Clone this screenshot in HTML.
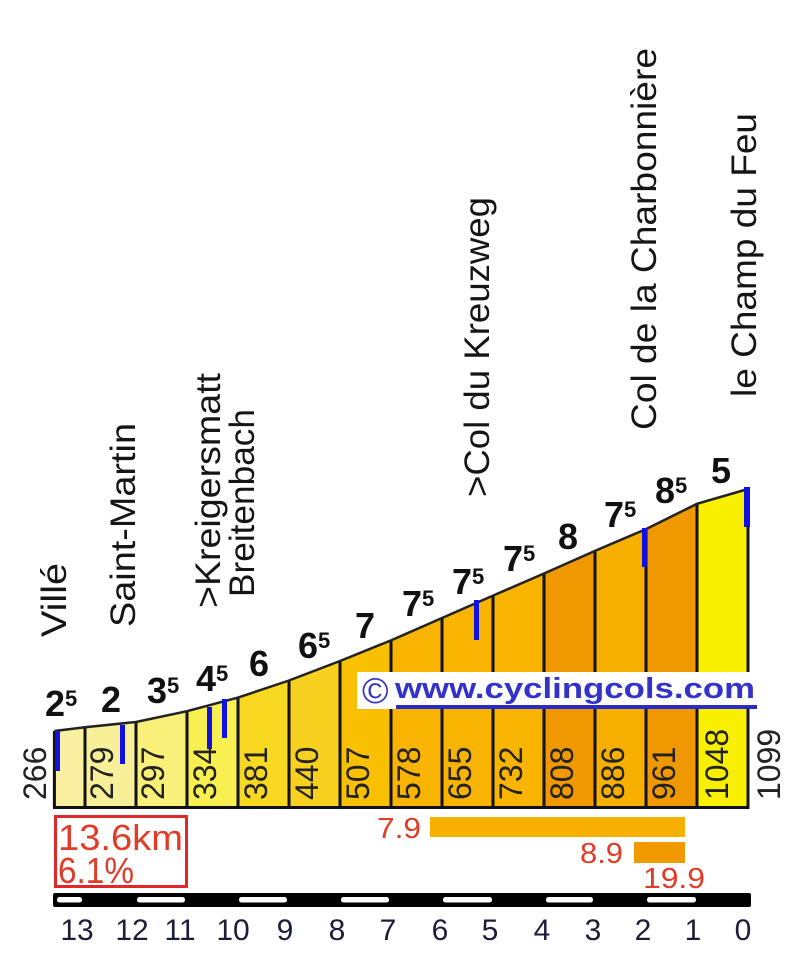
<!DOCTYPE html>
<html><head><meta charset="utf-8"><style>
html,body{margin:0;padding:0;background:#fff;}
svg{display:block;}
text{font-family:"Liberation Sans",sans-serif;}
</style></head><body>
<svg width="800" height="953" viewBox="0 0 800 953" xmlns="http://www.w3.org/2000/svg">
<rect width="800" height="953" fill="#fff"/>

<!-- place names -->
<g font-size="35" fill="#151515">
<text transform="translate(66,637) rotate(-90)" textLength="74" lengthAdjust="spacingAndGlyphs">Villé</text>
<text transform="translate(135,627) rotate(-90)" textLength="204" lengthAdjust="spacingAndGlyphs">Saint-Martin</text>
<text transform="translate(220,608) rotate(-90)" textLength="235" lengthAdjust="spacingAndGlyphs">&gt;Kreigersmatt</text>
<text transform="translate(254,597) rotate(-90)" textLength="188" lengthAdjust="spacingAndGlyphs">Breitenbach</text>
<text transform="translate(489,497) rotate(-90)" textLength="300" lengthAdjust="spacingAndGlyphs">&gt;Col du Kreuzweg</text>
<text transform="translate(656,430) rotate(-90)" textLength="382" lengthAdjust="spacingAndGlyphs">Col de la Charbonnière</text>
<text transform="translate(756,397) rotate(-90)" textLength="284" lengthAdjust="spacingAndGlyphs">le Champ du Feu</text>
</g>

<!-- columns -->
<g stroke="none">
<polygon points="54.4,731 85,727.2 85,808 54.4,808" fill="#f8f0a0"/>
<polygon points="85,727.2 136,722 136,808 85,808" fill="#f8f098"/>
<polygon points="136,722 187,711.2 187,808 136,808" fill="#f8f078"/>
<polygon points="187,711.2 238,697.6 238,808 187,808" fill="#f8f050"/>
<polygon points="238,697.6 289,680.5 289,808 238,808" fill="#f8d820"/>
<polygon points="289,680.5 340,661 340,808 289,808" fill="#f8d020"/>
<polygon points="340,661 391,640.4 391,808 340,808" fill="#f8c000"/>
<polygon points="391,640.4 442,618 442,808 391,808" fill="#f8b400"/>
<polygon points="442,618 493,595.6 493,808 442,808" fill="#f8b400"/>
<polygon points="493,595.6 544,573.5 544,808 493,808" fill="#f8b400"/>
<polygon points="544,573.5 595,550.9 595,808 544,808" fill="#f09800"/>
<polygon points="595,550.9 646,529.1 646,808 595,808" fill="#f8b000"/>
<polygon points="646,529.1 697,503.8 697,808 646,808" fill="#f09800"/>
<polygon points="697,503.8 748,489 748,808 697,808" fill="#f8f000"/>
</g>

<!-- separators -->
<g stroke="#111" stroke-width="3">
<line x1="54.4" y1="731" x2="54.4" y2="808"/>
<line x1="85" y1="727.2" x2="85" y2="808"/>
<line x1="136" y1="722" x2="136" y2="808"/>
<line x1="187" y1="711.2" x2="187" y2="808"/>
<line x1="238" y1="697.6" x2="238" y2="808"/>
<line x1="289" y1="680.5" x2="289" y2="808"/>
<line x1="340" y1="661" x2="340" y2="808"/>
<line x1="391" y1="640.4" x2="391" y2="808"/>
<line x1="442" y1="618" x2="442" y2="808"/>
<line x1="493" y1="595.6" x2="493" y2="808"/>
<line x1="544" y1="573.5" x2="544" y2="808"/>
<line x1="595" y1="550.9" x2="595" y2="808"/>
<line x1="646" y1="529.1" x2="646" y2="808"/>
<line x1="697" y1="503.8" x2="697" y2="808"/>
<line x1="748" y1="489" x2="748" y2="808"/>
<line x1="53" y1="807.5" x2="749.5" y2="807.5"/>
</g>
<polyline points="54.4,731 85,727.2 136,722 187,711.2 238,697.6 289,680.5 340,661 391,640.4 442,618 493,595.6 544,573.5 595,550.9 646,529.1 697,503.8 748,489" fill="none" stroke="#222" stroke-width="2.5"/>

<!-- watermark -->
<rect x="357" y="672" width="400" height="37" fill="#fff"/>
<text x="362" y="703" font-size="36" fill="#3333cc">©</text>
<text x="395" y="698" font-size="29" font-weight="bold" fill="#3333cc" textLength="360" lengthAdjust="spacingAndGlyphs">www.cyclingcols.com</text>
<rect x="396" y="705" width="361" height="4" fill="#2a2ac8"/>

<!-- blue markers -->
<g fill="#1010e0">
<rect x="55" y="731" width="5" height="40"/>
<rect x="120" y="725" width="5" height="39"/>
<rect x="207" y="707" width="5" height="42"/>
<rect x="222" y="699" width="5" height="39"/>
<rect x="474" y="600" width="5" height="40"/>
<rect x="642" y="528" width="5" height="39"/>
<rect x="744" y="487" width="6" height="40"/>
</g>

<!-- elevation labels -->
<g font-size="32" fill="#222">
<text transform="translate(46,800) rotate(-90)">266</text>
<text transform="translate(113,800) rotate(-90)">279</text>
<text transform="translate(164,800) rotate(-90)">297</text>
<text transform="translate(216,800) rotate(-90)">334</text>
<text transform="translate(267,800) rotate(-90)">381</text>
<text transform="translate(318,800) rotate(-90)">440</text>
<text transform="translate(369,800) rotate(-90)">507</text>
<text transform="translate(420,800) rotate(-90)">578</text>
<text transform="translate(471,800) rotate(-90)">655</text>
<text transform="translate(522,800) rotate(-90)">732</text>
<text transform="translate(573,800) rotate(-90)">808</text>
<text transform="translate(624,800) rotate(-90)">886</text>
<text transform="translate(675,800) rotate(-90)">961</text>
<text transform="translate(728,800) rotate(-90)">1048</text>
<text transform="translate(780,800) rotate(-90)">1099</text>
</g>

<!-- gradient labels -->
<g font-size="36" font-weight="bold" fill="#111">
<text x="45" y="716">2<tspan font-size="22" dy="-10">5</tspan></text>
<text x="111" y="712" text-anchor="middle">2</text>
<text x="147" y="703">3<tspan font-size="22" dy="-10">5</tspan></text>
<text x="196" y="691">4<tspan font-size="22" dy="-10">5</tspan></text>
<text x="259" y="676" text-anchor="middle">6</text>
<text x="298" y="658">6<tspan font-size="22" dy="-10">5</tspan></text>
<text x="365" y="638" text-anchor="middle">7</text>
<text x="402" y="616">7<tspan font-size="22" dy="-10">5</tspan></text>
<text x="452" y="594">7<tspan font-size="22" dy="-10">5</tspan></text>
<text x="503" y="571">7<tspan font-size="22" dy="-10">5</tspan></text>
<text x="568" y="549" text-anchor="middle">8</text>
<text x="604" y="527">7<tspan font-size="22" dy="-10">5</tspan></text>
<text x="655" y="503">8<tspan font-size="22" dy="-10">5</tspan></text>
<text x="721" y="483" text-anchor="middle">5</text>
</g>

<!-- summary box -->
<rect x="55.5" y="816.5" width="131" height="70" fill="#fff" stroke="#e02828" stroke-width="3"/>
<text x="58" y="850" font-size="36" fill="#e03c28" textLength="125" lengthAdjust="spacingAndGlyphs">13.6km</text>
<text x="58" y="883" font-size="36" fill="#e03c28" textLength="76" lengthAdjust="spacingAndGlyphs">6.1%</text>

<!-- steepest sections -->
<rect x="430" y="817" width="255" height="20" fill="#f8b000"/>
<text x="377" y="838" font-size="29" fill="#e03c28" textLength="44" lengthAdjust="spacingAndGlyphs">7.9</text>
<rect x="634" y="842" width="51" height="21" fill="#f09a00"/>
<text x="580" y="863" font-size="29" fill="#e03c28" textLength="43" lengthAdjust="spacingAndGlyphs">8.9</text>
<text x="643" y="888" font-size="29" fill="#e03c28" textLength="62" lengthAdjust="spacingAndGlyphs">19.9</text>

<!-- km scale bar -->
<rect x="53" y="893" width="698" height="14" rx="2" fill="#000"/>
<g fill="#fff">
<rect x="57" y="897" width="25" height="5.5" rx="2.5"/>
<rect x="137" y="897" width="48" height="5.5" rx="2.5"/>
<rect x="239" y="897" width="48" height="5.5" rx="2.5"/>
<rect x="341" y="897" width="48" height="5.5" rx="2.5"/>
<rect x="443" y="897" width="49" height="5.5" rx="2.5"/>
<rect x="546" y="897" width="47" height="5.5" rx="2.5"/>
<rect x="647" y="897" width="49" height="5.5" rx="2.5"/>
</g>
<g font-size="30" fill="#1c1c3c" text-anchor="middle">
<text x="77" y="940">13</text>
<text x="132" y="940">12</text>
<text x="180" y="940">11</text>
<text x="233" y="940">10</text>
<text x="285" y="940">9</text>
<text x="337" y="940">8</text>
<text x="388" y="940">7</text>
<text x="440" y="940">6</text>
<text x="490" y="940">5</text>
<text x="542" y="940">4</text>
<text x="593" y="940">3</text>
<text x="643" y="940">2</text>
<text x="693" y="940">1</text>
<text x="743" y="940">0</text>
</g>
</svg>
</body></html>
